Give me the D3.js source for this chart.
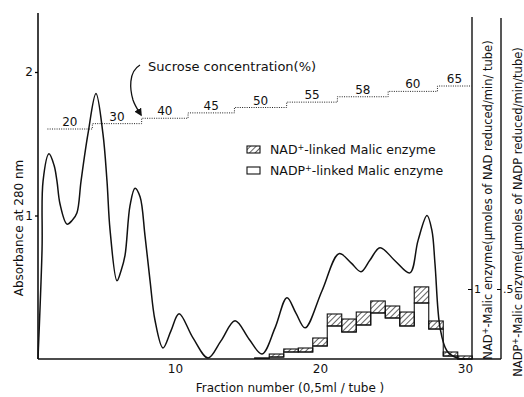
<!DOCTYPE html>
<html>
<head>
<meta charset="utf-8">
<script src="https://cdn.jsdelivr.net/npm/d3@7"></script>
<style>
  body { margin: 0; background: #fff; }
  svg text { font-family: "DejaVu Sans", sans-serif; fill: #111; }
</style>
</head>
<body>
<svg id="chart" width="524" height="397"></svg>
<script>
// absorbance at 280 nm: [fraction, absorbance]
const absorbance = [
  [0.55, 0], [0.83, 0.76], [0.9, 1.24], [1.31, 1.43], [1.66, 1.35], [1.86, 1.24],
  [2.07, 1.08], [2.55, 0.94], [2.9, 0.965], [3.24, 1.02], [3.52, 1.24], [4.0, 1.57],
  [4.55, 1.85], [5.03, 1.57], [5.31, 1.24], [5.52, 0.9], [6.0, 0.545], [6.28, 0.615],
  [6.55, 0.72], [6.9, 1.07], [7.24, 1.19], [7.59, 1.13], [7.93, 0.86], [8.28, 0.545],
  [8.62, 0.27], [9.17, 0.077], [9.72, 0.196], [10.28, 0.315], [11.24, 0.147],
  [12.28, 0.007], [13.17, 0.126], [14.14, 0.266], [15.1, 0.14], [16.0, 0.035],
  [16.9, 0.217], [17.72, 0.427], [18.34, 0.32], [18.97, 0.217], [20.14, 0.476],
  [21.31, 0.734], [22.14, 0.67], [22.83, 0.608], [23.45, 0.69], [24.14, 0.776],
  [25.17, 0.685], [26.2, 0.6], [26.76, 0.825], [27.38, 1.0], [27.72, 0.895],
  [27.93, 0.664], [28.28, 0.217], [28.76, 0.056], [29.45, 0.007], [30.0, 0]
];

// enzyme activity per fraction
const fractions = [16, 17, 18, 19, 20, 21, 22, 23, 24, 25, 26, 27, 28, 29, 30];
const nadActivity = [0.015, 0.071, 0.143, 0.157, 0.30, 0.643, 0.571, 0.671, 0.829, 0.757, 0.671, 1.03, 0.543, 0.10, 0.043];
const nadpActivity = [0.005, 0.014, 0.05, 0.05, 0.093, 0.236, 0.193, 0.243, 0.329, 0.293, 0.236, 0.40, 0.214, 0.021, 0.0];

// sucrose gradient steps
const sucroseLabels = ['20', '30', '40', '45', '50', '55', '58', '60', '65'];
const sucroseEdges = [1.2, 4.3, 7.7, 10.9, 14.1, 17.7, 21.2, 24.7, 28.1, 30.45];

const xTicks = [10, 20, 30];
const absTicks = [1, 2];

const svg = d3.select('#chart');
const base = 359;
const leftX = 38, right1 = 472, right2 = 501;

const x = d3.scaleLinear().domain([0, 30]).range([30, 465]);
const y = d3.scaleLinear().domain([0, 2]).range([base, 72]);
const yNad = d3.scaleLinear().domain([0, 1]).range([base, 289]);
const yNadp = d3.scaleLinear().domain([0, 0.5]).range([base, 289]);
const ySuc = d3.scaleLinear().domain([0, sucroseLabels.length - 1]).range([129, 86]);

// hatch pattern
const defs = svg.append('defs');
defs.append('pattern')
  .attr('id', 'hatch')
  .attr('patternUnits', 'userSpaceOnUse')
  .attr('width', 4).attr('height', 4)
  .attr('patternTransform', 'rotate(45)')
  .append('line')
  .attr('x1', 0).attr('y1', 0).attr('x2', 0).attr('y2', 4)
  .attr('stroke', '#111').attr('stroke-width', 1.3);

// axes lines
svg.append('line').attr('x1', leftX).attr('x2', leftX).attr('y1', 13).attr('y2', base)
  .attr('stroke', '#111').attr('stroke-width', 1.6);
svg.append('line').attr('x1', leftX).attr('x2', right2).attr('y1', base).attr('y2', base)
  .attr('stroke', '#111').attr('stroke-width', 1.6);
svg.append('line').attr('x1', right1).attr('x2', right1).attr('y1', 17).attr('y2', base)
  .attr('stroke', '#111').attr('stroke-width', 1.4);
svg.append('line').attr('x1', right2).attr('x2', right2).attr('y1', 18).attr('y2', base)
  .attr('stroke', '#111').attr('stroke-width', 1.4);

// left axis ticks
const gLeft = svg.append('g').attr('transform', `translate(${leftX},0)`)
  .call(d3.axisLeft(y).tickValues(absTicks).tickSize(3).tickPadding(2).tickFormat(d3.format('d')));
gLeft.select('.domain').remove();
gLeft.selectAll('text').style('font-size', '12px');
gLeft.selectAll('line').attr('stroke-width', 1.3);

// bottom labels
const gBottom = svg.append('g').attr('transform', `translate(0,${base})`)
  .call(d3.axisBottom(x).tickValues(xTicks).tickSize(0).tickPadding(5));
gBottom.select('.domain').remove();
gBottom.selectAll('text').style('font-size', '12px');

// right axes
const gR1 = svg.append('g').attr('transform', `translate(${right1},0)`)
  .call(d3.axisRight(yNad).tickValues([1]).tickSize(-4).tickPadding(2).tickFormat(d3.format('d')));
gR1.select('.domain').remove();
gR1.selectAll('text').style('font-size', '11px');
const gR2 = svg.append('g').attr('transform', `translate(${right2},0)`)
  .call(d3.axisRight(yNadp).tickValues([0.5]).tickSize(-4).tickPadding(2).tickFormat(d => '.5'));
gR2.select('.domain').remove();
gR2.selectAll('text').style('font-size', '11px');

// bars: hatched band between NADP (open) and NAD levels
svg.append('g').selectAll('rect')
  .data(fractions)
  .join('rect')
  .attr('x', d => x(d - 0.5))
  .attr('width', x(1) - x(0))
  .attr('y', (d, i) => yNad(nadActivity[i]))
  .attr('height', (d, i) => yNadp(nadpActivity[i]) - yNad(nadActivity[i]))
  .attr('fill', 'url(#hatch)')
  .attr('stroke', '#111').attr('stroke-width', 1.1);

// open histogram outline for NADP
const nadpSteps = [[fractions[0] - 0.5, 0]]
  .concat(fractions.map((f, i) => [f - 0.5, nadpActivity[i]]))
  .concat([[fractions[fractions.length - 1] + 0.5, nadpActivity[nadpActivity.length - 1]],
           [fractions[fractions.length - 1] + 0.5, 0]]);
svg.append('path')
  .datum(nadpSteps)
  .attr('fill', 'none')
  .attr('stroke', '#111').attr('stroke-width', 1.1)
  .attr('d', d3.line().x(d => x(d[0])).y(d => yNadp(d[1])).curve(d3.curveStepAfter));

// absorbance trace
svg.append('path')
  .datum(absorbance)
  .attr('fill', 'none')
  .attr('stroke', '#111')
  .attr('stroke-width', 1.5)
  .attr('d', d3.line().x(d => x(d[0])).y(d => y(d[1])).curve(d3.curveCatmullRom.alpha(0.5)));

// sucrose steps
const steps = [];
sucroseLabels.forEach((s, i) => {
  steps.push([x(sucroseEdges[i]), ySuc(i)]);
  steps.push([x(sucroseEdges[i + 1]), ySuc(i)]);
});
svg.append('path')
  .datum(steps)
  .attr('fill', 'none')
  .attr('stroke', '#222')
  .attr('stroke-width', 1)
  .attr('stroke-dasharray', '1,1.3')
  .attr('d', d3.line());

svg.append('g').selectAll('text')
  .data(sucroseLabels)
  .join('text')
  .attr('x', (d, i) => (x(sucroseEdges[i]) + x(sucroseEdges[i + 1])) / 2)
  .attr('y', (d, i) => ySuc(i) - 3)
  .attr('text-anchor', 'middle')
  .style('font-size', '12px')
  .text(d => d);

svg.append('text')
  .attr('x', 148).attr('y', 71)
  .style('font-size', '13px')
  .text('Sucrose concentration(%)');

// curved arrow
defs.append('marker')
  .attr('id', 'arrow')
  .attr('viewBox', '0 0 10 10')
  .attr('refX', 8).attr('refY', 5)
  .attr('markerWidth', 6).attr('markerHeight', 6)
  .attr('orient', 'auto')
  .append('path').attr('d', 'M0,0L10,5L0,10z').attr('fill', '#111');
svg.append('path')
  .attr('d', 'M140,65 C128,72 130,90 133,100 C135,106 138,110 141,115')
  .attr('fill', 'none').attr('stroke', '#111').attr('stroke-width', 1.3)
  .attr('marker-end', 'url(#arrow)');

// legend
const legend = svg.append('g');
legend.append('rect').attr('x', 247).attr('y', 146).attr('width', 13).attr('height', 7)
  .attr('fill', 'url(#hatch)').attr('stroke', '#111').attr('stroke-width', 1.1);
legend.append('rect').attr('x', 247).attr('y', 167).attr('width', 13).attr('height', 7)
  .attr('fill', '#fff').attr('stroke', '#111').attr('stroke-width', 1.1);
const l1 = legend.append('text').attr('x', 270).attr('y', 154).style('font-size', '12.5px');
l1.append('tspan').text('NAD');
l1.append('tspan').attr('baseline-shift', 'super').style('font-size', '8px').text('+');
l1.append('tspan').text('-linked Malic enzyme');
const l2 = legend.append('text').attr('x', 270).attr('y', 175).style('font-size', '12.5px');
l2.append('tspan').text('NADP');
l2.append('tspan').attr('baseline-shift', 'super').style('font-size', '8px').text('+');
l2.append('tspan').text('-linked Malic enzyme');

// axis titles
svg.append('text')
  .attr('transform', 'translate(23,228) rotate(-90)')
  .attr('text-anchor', 'middle')
  .style('font-size', '12px')
  .text('Absorbance at 280 nm');

svg.append('text')
  .attr('x', 290).attr('y', 392)
  .attr('text-anchor', 'middle')
  .style('font-size', '12px')
  .text('Fraction number (0,5ml / tube )');

const r1 = svg.append('text')
  .attr('transform', 'translate(492,200) rotate(-90)')
  .attr('text-anchor', 'middle')
  .style('font-size', '11.5px');
r1.append('tspan').text('NAD');
r1.append('tspan').attr('baseline-shift', 'super').style('font-size', '8px').text('+');
r1.append('tspan').text('-Malic enzyme(μmoles of NAD reduced/min/ tube)');

const r2 = svg.append('text')
  .attr('transform', 'translate(522,212) rotate(-90)')
  .attr('text-anchor', 'middle')
  .style('font-size', '11.5px');
r2.append('tspan').text('NADP');
r2.append('tspan').attr('baseline-shift', 'super').style('font-size', '8px').text('+');
r2.append('tspan').text('-Malic enzyme(μmoles of NADP reduced/min/tube)');
</script>
</body>
</html>
